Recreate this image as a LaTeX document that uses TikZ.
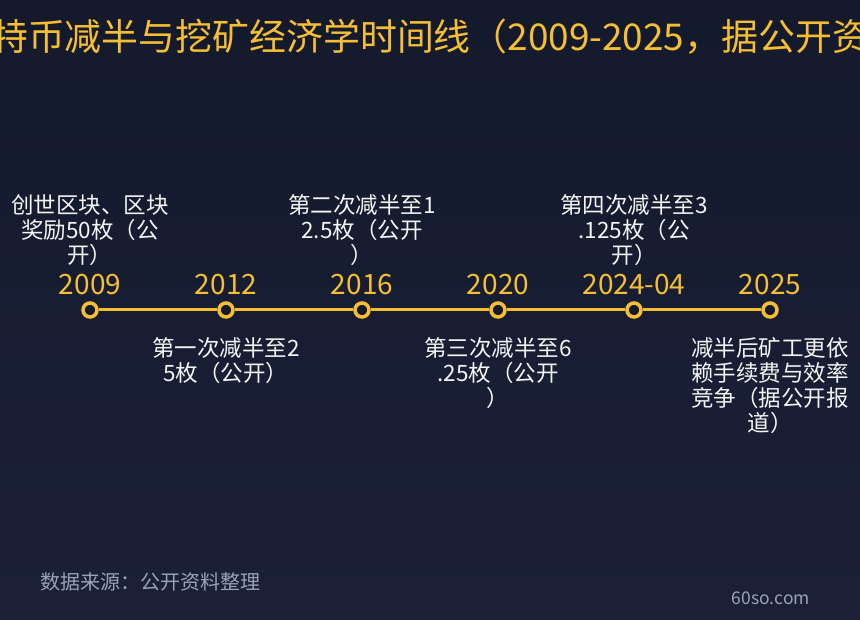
\documentclass[tikz,border=0pt]{standalone}
\usepackage{fontspec}
\setmainfont{Noto Sans CJK SC}
\definecolor{bgtop}{HTML}{141A2C}
\definecolor{bgbot}{HTML}{1B2038}
\definecolor{gold}{HTML}{F6BE32}
\definecolor{ink}{HTML}{F4F4F4}
\definecolor{muted}{HTML}{9AA3B5}
\begin{document}
\begin{tikzpicture}[x=1pt,y=-1pt,
    dot/.style={circle, draw=gold, line width=3.5pt, fill=bgtop, minimum size=14pt, inner sep=0pt},
    year/.style={text=gold, font=\fontsize{28}{30}\selectfont, anchor=base, inner sep=0pt},
    upnote/.style={text=ink, font=\fontsize{22.5}{25}\selectfont, align=center, anchor=south, inner sep=0pt},
    downnote/.style={text=ink, font=\fontsize{22.5}{25}\selectfont, align=center, anchor=north, inner sep=0pt},
    link/.style={draw=gold, line width=3pt}]
  \clip (0,0) rectangle (860,620);
  \shade[top color=bgtop, bottom color=bgbot] (0,0) rectangle (860,620);
  \node (title) at (-9,37) [anchor=west, inner sep=0pt, text=gold,
    font=\fontsize{36.9}{42}\selectfont] {特币减半与挖矿经济学时间线（2009-2025，据公开资};
  % timeline dots
  \node (d1) at (90,310) [dot] {}; \node (d2) at (226,310) [dot] {};
  \node (d3) at (362,310) [dot] {}; \node (d4) at (498,310) [dot] {};
  \node (d5) at (634,310) [dot] {}; \node (d6) at (770,310) [dot] {};
  \draw[link] (d1) -- (d2); \draw[link] (d2) -- (d3); \draw[link] (d3) -- (d4);
  \draw[link] (d4) -- (d5); \draw[link] (d5) -- (d6);
  % years
  \node (y1) at (90,295) [year] {2009}; \node (y2) at (226,295) [year] {2012};
  \node (y3) at (362,295) [year] {2016}; \node (y4) at (498,295) [year] {2020};
  \node (y5) at (634,295) [year] {2024-04}; \node (y6) at (770,295) [year] {2025};
  % notes
  \node (n1) at (90,266) [upnote] {创世区块、区块\\奖励50枚（公\\开）};
  \node (n2) at (226,337) [downnote] {第一次减半至2\\5枚（公开）};
  \node (n3) at (362,266) [upnote] {第二次减半至1\\2.5枚（公开\\）};
  \node (n4) at (498,337) [downnote] {第三次减半至6\\.25枚（公开\\）};
  \node (n5) at (634,266) [upnote] {第四次减半至3\\.125枚（公\\开）};
  \node (n6) at (770,337) [downnote] {减半后矿工更依\\赖手续费与效率\\竞争（据公开报\\道）};
  % footer
  \node (src) at (40,582) [anchor=west, inner sep=0pt, text=muted,
    font=\fontsize{20}{22}\selectfont] {数据来源：公开资料整理};
  \node (site) at (810,598) [anchor=east, inner sep=0pt, text=muted,
    font=\fontsize{17.5}{20}\selectfont] {60so.com};
\end{tikzpicture}
\end{document}
